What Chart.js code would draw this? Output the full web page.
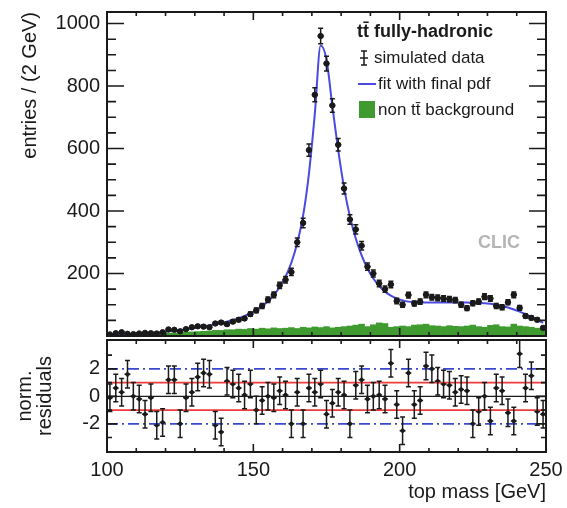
<!DOCTYPE html>
<html>
<head>
<meta charset="utf-8">
<script src="https://cdn.jsdelivr.net/npm/chart.js@4"></script>
<style>
  body { margin: 0; background: #fff; }
  #wrap { position: relative; width: 567px; height: 508px; }
  #top { position: absolute; left: 0; top: 0; }
  #bot { position: absolute; left: 0; top: 330px; }
</style>
</head>
<body>
<div id="wrap">
  <canvas id="top" width="567" height="341"></canvas>
  <canvas id="bot" width="567" height="178"></canvas>
</div>
<script>
// bin centres (2 GeV bins, 100-250 GeV)
const MASS = [101,103,105,107,109,111,113,115,117,119,121,123,125,127,129,131,133,135,137,139,
  141,143,145,147,149,151,153,155,157,159,161,163,165,167,169,171,173,175,177,179,
  181,183,185,187,189,191,193,195,197,199,201,203,205,207,209,211,213,215,217,219,
  221,223,225,227,229,231,233,235,237,239,241,243,245,247,249];

// simulated data, entries per bin
const ENTRIES = [5,9,12,7,6,8,10,9,8,12,21,20,15,22,28,31,30,28,40,43,
  38,46,52,56,70,82,96,116,132,162,180,205,300,362,595,772,960,872,738,612,
  472,373,341,289,222,200,168,150,165,112,100,131,104,110,132,124,122,120,118,115,
  100,89,105,110,126,120,96,92,108,132,90,64,58,52,26];

// fit with final pdf
const FIT = [3,4,5,6,7,8,9,10,11,13,15,17,19,22,25,28,31,34,38,42,
  46,51,57,64,72,82,95,111,131,157,190,235,298,385,520,710,930,885,735,595,
  475,382,312,258,216,184,160,142,129,120,114,110,108,107,107,107,107,107,107,107,
  107,107,106,106,105,103,100,96,91,85,78,70,61,52,42];

// non ttbar background
const BKG = [3,4,4,5,5,6,6,7,8,8,9,10,11,12,13,14,15,16,18,18,
  20,20,22,21,24,22,25,23,26,24,25,27,24,28,26,29,27,30,26,28,
  30,32,35,38,30,36,42,40,28,30,32,30,35,36,38,33,32,30,33,31,
  30,32,35,30,28,34,36,30,29,38,32,30,28,25,22];

// normalised residuals
const RESID = [-0.1,0.6,0.3,1.6,0.0,-0.2,-1.3,-0.1,-2.1,-1.9,1.2,1.2,-2.0,-0.1,0.3,1.4,1.7,1.6,-2.1,-2.6,
  1.1,0.9,0.6,0.1,0.9,-1.0,-0.3,0.0,-0.1,0.4,0.1,
  -2.0,0.3,-2.0,0.6,0.3,0.9,-1.3,-0.5,0.3,0.1,-2.0,0.8,1.2,-0.2,0.0,0.1,-0.2,2.4,-0.6,-2.5,
  1.7,-0.6,-0.3,2.2,2.0,1.1,0.9,0.8,0.3,0.5,0.4,-2.0,-1.1,0.0,-1.8,0.6,0.4,-1.2,-1.8,3.1,
  0.6,1.5,-1.1,-1.3];

// ticks
const X_TICKS = [100,150,200,250];
const X_MINOR = [110,120,130,140,160,170,180,190,210,220,230,240];
const X_MAJOR = [150,200];
const Y_TICKS_TOP = [200,400,600,800,1000];
const Y_MINOR_TOP = [50,100,150,250,300,350,450,500,550,650,700,750,850,900,950];
const RES_TICKS = [-2,0,2];
const RES_MINOR = [-3,-1,1,3];

const FONT = 'Liberation Sans, Arial, sans-serif';
Chart.defaults.font.family = FONT;
const INK = '#1a1a1a';
const FIT_BLUE = '#4a4ae0';
const BKG_GREEN = '#3f9b2f';

// frame around the plot with inward ticks (ROOT style)
const frame = {
  id: 'frame',
  afterDraw(chart, args, o) {
    const {ctx, chartArea: a, scales: {x, y}} = chart;
    ctx.save();
    ctx.strokeStyle = INK;
    ctx.lineWidth = 2;
    ctx.strokeRect(a.left, a.top, a.right - a.left, a.bottom - a.top);
    ctx.lineWidth = 1.6;
    const tick = (vals, len, horiz) => {
      vals.forEach(v => {
        ctx.beginPath();
        if (horiz) {
          const px = x.getPixelForValue(v);
          ctx.moveTo(px, a.bottom); ctx.lineTo(px, a.bottom - len);
          ctx.moveTo(px, a.top); ctx.lineTo(px, a.top + len);
        } else {
          const py = y.getPixelForValue(v);
          ctx.moveTo(a.left, py); ctx.lineTo(a.left + len, py);
          ctx.moveTo(a.right, py); ctx.lineTo(a.right - len, py);
        }
        ctx.stroke();
      });
    };
    tick(o.xMinor, o.xMinorLen, true);
    tick(o.xMajor, o.xMajorLen, true);
    tick(o.yMinor, o.yMinorLen, false);
    tick(o.yMajor, o.yMajorLen, false);
    ctx.restore();
  }
};

// error bars drawn through the chart scales
const errorBars = {
  id: 'errorBars',
  afterDatasetsDraw(chart, args, o) {
    const {ctx, chartArea: a, scales: {x, y}} = chart;
    ctx.save();
    ctx.beginPath();
    ctx.rect(a.left, a.top, a.right - a.left, a.bottom - a.top);
    ctx.clip();
    ctx.strokeStyle = INK;
    ctx.lineWidth = 1.5;
    o.xs.forEach((m, i) => {
      const v = o.ys[i];
      const e = o.err[i];
      const px = x.getPixelForValue(m);
      const py = y.getPixelForValue(v);
      const y1 = y.getPixelForValue(v - e), y2 = y.getPixelForValue(v + e);
      const x1 = x.getPixelForValue(m - o.xHalf), x2 = x.getPixelForValue(m + o.xHalf);
      ctx.beginPath();
      ctx.moveTo(px, y1); ctx.lineTo(px, y2);
      ctx.moveTo(x1, py); ctx.lineTo(x2, py);
      ctx.moveTo(px - o.cap, y1); ctx.lineTo(px + o.cap, y1);
      ctx.moveTo(px - o.cap, y2); ctx.lineTo(px + o.cap, y2);
      ctx.stroke();
    });
    ctx.restore();
  }
};

// legend box and CLIC label
const legendText = {
  id: 'legendText',
  afterDraw(chart) {
    const ctx = chart.ctx;
    ctx.save();
    ctx.textBaseline = 'middle';
    ctx.fillStyle = INK;
    ctx.font = 'bold 18px ' + FONT;
    ctx.fillText('tt\u0304 fully-hadronic', 357, 32);
    ctx.font = '17px ' + FONT;
    // data marker
    ctx.strokeStyle = INK; ctx.lineWidth = 1.5;
    ctx.beginPath();
    ctx.moveTo(364, 51); ctx.lineTo(364, 65);
    ctx.moveTo(361, 51); ctx.lineTo(367, 51);
    ctx.moveTo(361, 65); ctx.lineTo(367, 65);
    ctx.moveTo(360, 58); ctx.lineTo(368, 58);
    ctx.stroke();
    ctx.fillText('simulated data', 374, 58);
    // fit line
    ctx.strokeStyle = FIT_BLUE; ctx.lineWidth = 2;
    ctx.beginPath(); ctx.moveTo(358, 84); ctx.lineTo(376, 84); ctx.stroke();
    ctx.fillText('fit with final pdf', 378, 84);
    // background box
    ctx.fillStyle = BKG_GREEN;
    ctx.fillRect(359, 101, 16, 17);
    ctx.fillStyle = INK;
    ctx.fillText('non tt\u0304 background', 378, 110);
    // CLIC
    ctx.fillStyle = '#b4b4b4';
    ctx.font = 'bold 18px ' + FONT;
    ctx.textAlign = 'center';
    ctx.fillText('CLIC', 499, 243);
    ctx.restore();
  }
};

const ERR = ENTRIES.map(v => Math.sqrt(v) * 0.8);
const pts = (ys) => MASS.map((m, i) => ({x: m, y: ys[i]}));
const hline = (v) => [{x: 100, y: v}, {x: 250, y: v}];
const plain = v => String(v);

new Chart(document.getElementById('top'), {
  type: 'bar',
  data: {
    datasets: [
      { type: 'bar', label: 'non tt\u0304 background', data: pts(BKG),
        backgroundColor: BKG_GREEN, barPercentage: 1, categoryPercentage: 1, order: 3 },
      { type: 'line', label: 'fit with final pdf', data: pts(FIT),
        borderColor: FIT_BLUE, borderWidth: 2, pointRadius: 0,
        cubicInterpolationMode: 'monotone', order: 2 },
      { type: 'scatter', label: 'simulated data', data: pts(ENTRIES),
        pointRadius: 2.7, backgroundColor: INK, borderColor: INK, order: 1 }
    ]
  },
  options: {
    responsive: false,
    animation: false,
    layout: { padding: { top: 12, right: 21, bottom: 1, left: 0 } },
    plugins: {
      legend: { display: false },
      tooltip: { enabled: false },
      frame: { xMinor: X_MINOR, xMajor: X_MAJOR, xMinorLen: 4, xMajorLen: 8,
               yMinor: Y_MINOR_TOP, yMajor: Y_TICKS_TOP, yMinorLen: 9, yMajorLen: 17 },
      errorBars: { xs: MASS, ys: ENTRIES, err: ERR, xHalf: 1, cap: 2.5 }
    },
    scales: {
      x: { type: 'linear', min: 100, max: 250, display: false, offset: false },
      y: {
        type: 'linear', min: 0, max: 1037,
        afterFit: s => { s.width = 107; s.paddingTop = 0; s.paddingBottom = 0; },
        afterBuildTicks: s => { s.ticks = Y_TICKS_TOP.map(v => ({value: v})); },
        grid: { display: false, drawTicks: false },
        border: { display: false },
        ticks: { padding: 7, color: INK, font: { size: 20 }, callback: plain },
        title: { display: true, text: 'entries / (2 GeV)', align: 'end', color: INK,
                 font: { size: 20 }, padding: { top: 18, bottom: 0 } }
      }
    }
  },
  plugins: [frame, errorBars, legendText]
});

new Chart(document.getElementById('bot'), {
  type: 'scatter',
  data: {
    datasets: [
      { data: hline(2), showLine: true, borderColor: '#3a48d0', borderWidth: 1.6,
        borderDash: [11, 4, 2, 4], pointRadius: 0 },
      { data: hline(-2), showLine: true, borderColor: '#3a48d0', borderWidth: 1.6,
        borderDash: [11, 4, 2, 4], pointRadius: 0 },
      { data: hline(1), showLine: true, borderColor: '#ee3b3b', borderWidth: 1.8, pointRadius: 0 },
      { data: hline(-1), showLine: true, borderColor: '#ee3b3b', borderWidth: 1.8, pointRadius: 0 },
      { data: hline(0), showLine: true, borderColor: INK, borderWidth: 1.4, pointRadius: 0 },
      { label: 'residuals', data: pts(RESID), pointRadius: 1.8,
        backgroundColor: INK, borderColor: INK }
    ]
  },
  options: {
    responsive: false,
    animation: false,
    layout: { padding: { top: 10, right: 21, bottom: 0, left: 0 } },
    plugins: {
      legend: { display: false },
      tooltip: { enabled: false },
      frame: { xMinor: X_MINOR, xMajor: X_MAJOR, xMinorLen: 4, xMajorLen: 8,
               yMinor: RES_MINOR, yMajor: RES_TICKS, yMinorLen: 5, yMajorLen: 10 },
      errorBars: { xs: MASS, ys: RESID, err: RESID.map(() => 1), xHalf: 1, cap: 2.5 }
    },
    scales: {
      x: {
        type: 'linear', min: 100, max: 250,
        afterFit: s => { s.height = 56; s.paddingLeft = 0; s.paddingRight = 0; },
        afterBuildTicks: s => { s.ticks = X_TICKS.map(v => ({value: v})); },
        grid: { display: false, drawTicks: false },
        border: { display: false },
        ticks: { padding: 6, color: INK, font: { size: 20 }, maxRotation: 0, autoSkip: false, callback: plain },
        title: { display: true, text: 'top mass [GeV]', align: 'end', color: INK,
                 font: { size: 20 }, padding: { top: 0, bottom: 4 } }
      },
      y: {
        type: 'linear', min: -4.05, max: 4.1,
        afterFit: s => { s.width = 107; s.paddingTop = 0; s.paddingBottom = 0; },
        afterBuildTicks: s => { s.ticks = RES_TICKS.map(v => ({value: v})); },
        grid: { display: false, drawTicks: false },
        border: { display: false },
        ticks: { padding: 7, color: INK, font: { size: 20 }, callback: plain },
        title: { display: true, text: ['norm.', 'residuals'], color: INK,
                 font: { size: 20, lineHeight: 1 }, padding: { top: 15, bottom: 0 } }
      }
    }
  },
  plugins: [frame, errorBars]
});
</script>
</body>
</html>
